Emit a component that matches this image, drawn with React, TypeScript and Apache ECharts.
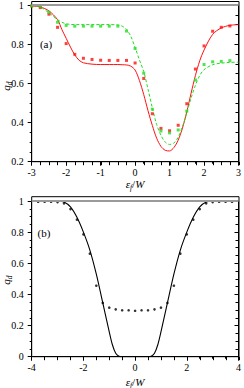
import React, { useEffect, useRef } from "react";
import * as echarts from "echarts";

// ---------- Panel (a) ----------
const pointsAX = [-3, -2.75, -2.5, -2.25, -2, -1.75, -1.5, -1.25, -1, -0.75, -0.5, -0.25, 0, 0.25, 0.5, 0.75, 1, 1.25, 1.5, 1.75, 2, 2.25, 2.5, 2.75];
const redPoints = [0.995, 0.987, 0.953, 0.886, 0.803, 0.748, 0.728, 0.722, 0.718, 0.717, 0.717, 0.717, 0.704, 0.625, 0.445, 0.37, 0.358, 0.386, 0.496, 0.673, 0.791, 0.866, 0.886, 0.893];
const greenPoints = [0.995, 0.994, 0.963, 0.912, 0.896, 0.892, 0.892, 0.892, 0.892, 0.892, 0.892, 0.867, 0.778, 0.652, 0.468, 0.357, 0.347, 0.362, 0.458, 0.617, 0.696, 0.71, 0.712, 0.716];

const curveAX = [-3, -2.75, -2.5, -2.25, -2.125, -2, -1.875, -1.75, -1.625, -1.5, -1.25, -1, -0.75, -0.5, -0.375, -0.25, -0.125, 0, 0.125, 0.25, 0.375, 0.5, 0.625, 0.75, 0.875, 1, 1.125, 1.25, 1.375, 1.5, 1.625, 1.75, 1.875, 2, 2.25, 2.5, 2.75, 3];
const redCurve = [0.995, 0.99, 0.97, 0.925, 0.875, 0.83, 0.785, 0.745, 0.718, 0.705, 0.698, 0.696, 0.696, 0.696, 0.695, 0.694, 0.688, 0.668, 0.615, 0.543, 0.46, 0.385, 0.32, 0.278, 0.258, 0.255, 0.272, 0.31, 0.372, 0.455, 0.55, 0.64, 0.715, 0.77, 0.85, 0.883, 0.896, 0.9];
const greenCurve = [0.997, 0.99, 0.96, 0.925, 0.912, 0.904, 0.901, 0.9, 0.9, 0.9, 0.9, 0.9, 0.9, 0.898, 0.892, 0.876, 0.84, 0.783, 0.72, 0.66, 0.57, 0.475, 0.39, 0.335, 0.3, 0.288, 0.295, 0.325, 0.38, 0.45, 0.525, 0.59, 0.64, 0.67, 0.695, 0.703, 0.707, 0.708];

// ---------- Panel (b) ----------
const pointsBX = [-3.75, -3.5, -3.25, -3, -2.75, -2.5, -2.25, -2, -1.75, -1.5, -1.25, -1, -0.75, -0.5, -0.25, 0, 0.25, 0.5, 0.75, 1, 1.25, 1.5, 1.75, 2, 2.25, 2.5, 2.75, 3, 3.25, 3.5, 3.75];
const blackPoints = [0.995, 0.995, 0.995, 0.993, 0.985, 0.948, 0.88, 0.786, 0.662, 0.456, 0.345, 0.315, 0.304, 0.298, 0.298, 0.295, 0.298, 0.298, 0.304, 0.315, 0.345, 0.456, 0.662, 0.786, 0.88, 0.948, 0.985, 0.993, 0.995, 0.995, 0.995];

const curveBX = [-4, -3.5, -3, -2.75, -2.5, -2.25, -2, -1.75, -1.5, -1.25, -1, -0.875, -0.75, -0.625, -0.5, 0, 0.5, 0.625, 0.75, 0.875, 1, 1.25, 1.5, 1.75, 2, 2.25, 2.5, 2.75, 3, 3.5, 4];
const blackCurve = [1, 1, 0.999, 0.994, 0.962, 0.895, 0.8, 0.685, 0.53, 0.345, 0.16, 0.075, 0.022, 0.003, 0, 0, 0, 0.003, 0.022, 0.075, 0.16, 0.345, 0.53, 0.685, 0.8, 0.895, 0.962, 0.994, 0.999, 1, 1];

const referenceLevel = 1;

const FONT = "Liberation Serif";
const RED = "#ff1010";
const GREEN = "#22dd22";

const zip = (xs: number[], ys: number[]) => xs.map((x, i) => [x, ys[i]]);

const fmtY = (v: number) => String(+v.toFixed(1));
const fmtX = (v: number) => String(+v.toFixed(2));

function bottomX(grid: number, min: number, max: number, interval: number) {
  return {
    type: "value", gridIndex: grid, position: "bottom", min, max, interval,
    axisLine: { show: true, onZero: false, lineStyle: { color: "#000", width: 1 } },
    axisTick: { show: true, inside: false, length: 4, lineStyle: { color: "#000" } },
    minorTick: { show: true, splitNumber: 4, length: 2, lineStyle: { color: "#000" } },
    axisLabel: { show: true, margin: 6, color: "#000", fontSize: 10, fontFamily: FONT, formatter: fmtX },
    splitLine: { show: false },
  };
}
function topX(grid: number, min: number, max: number, interval: number) {
  return {
    type: "value", gridIndex: grid, position: "top", min, max, interval,
    axisLine: { show: false },
    axisTick: { show: true, inside: true, length: 3.5, lineStyle: { color: "#000" } },
    minorTick: { show: true, splitNumber: 4, length: 3.5, lineStyle: { color: "#000" } },
    axisLabel: { show: false },
    splitLine: { show: false },
  };
}
function leftY(grid: number, min: number, max: number, interval: number) {
  return {
    type: "value", gridIndex: grid, position: "left", min, max, interval,
    axisLine: { show: true, onZero: false, lineStyle: { color: "#000", width: 1 } },
    axisTick: { show: true, inside: false, length: 4, lineStyle: { color: "#000" } },
    minorTick: { show: true, splitNumber: 4, length: 2, lineStyle: { color: "#000" } },
    axisLabel: { show: true, margin: 8, color: "#000", fontSize: 10, fontFamily: FONT, formatter: fmtY },
    splitLine: { show: false },
  };
}
function rightY(grid: number, min: number, max: number, interval: number) {
  return {
    type: "value", gridIndex: grid, position: "right", min, max, interval,
    axisLine: { show: true, onZero: false, lineStyle: { color: "#000", width: 1 } },
    axisTick: { show: true, inside: true, length: 4, lineStyle: { color: "#000" } },
    minorTick: { show: true, splitNumber: 4, length: 3, lineStyle: { color: "#000" } },
    axisLabel: { show: false },
    splitLine: { show: false },
  };
}
function hiddenY(grid: number) {
  return { type: "value", gridIndex: grid, show: false, min: 0, max: 1 };
}

const refLine = {
  silent: true,
  symbol: ["none", "none"],
  label: { show: false },
  lineStyle: { color: "#9a9a9a", width: 2, type: "solid" },
  data: [{ yAxis: referenceLevel }],
};

function subLabel(main: string) {
  return {
    fontFamily: FONT,
    rich: {
      i: { fontStyle: "italic", fontSize: 11, fontFamily: FONT, color: "#000", lineHeight: 14 },
      s: { fontStyle: "italic", fontSize: 7.5, fontFamily: FONT, color: "#000", verticalAlign: "bottom", lineHeight: 14 },
      n: { fontSize: 11, fontFamily: FONT, color: "#000", lineHeight: 14 },
    },
    text: main,
  };
}

export default function App() {
  const ref = useRef<HTMLDivElement>(null);
  useEffect(() => {
    document.body.style.margin = "0";
    if (!ref.current) return;
    const chart = echarts.init(ref.current, undefined, { renderer: "svg" });
    const L = 31.7, W = 207.3;
    const option: any = {
      animation: false,
      backgroundColor: "#fff",
      textStyle: { fontFamily: FONT },
      grid: [
        { left: L, top: 5, width: W, height: 156.7, show: false },
        { left: L, top: 1.5, width: W, height: 160.2, show: true, borderColor: "#000", borderWidth: 1, backgroundColor: "transparent" },
        { left: L, top: 201, width: W, height: 155.7, show: false },
        { left: L, top: 196.7, width: W, height: 160, show: true, borderColor: "#000", borderWidth: 1, backgroundColor: "transparent" },
      ],
      xAxis: [
        bottomX(0, -3, 3, 1),
        topX(1, -3, 3, 1),
        bottomX(2, -4, 4, 2),
        topX(3, -4, 4, 2),
      ],
      yAxis: [
        leftY(0, 0.2, 1, 0.2),
        rightY(0, 0.2, 1, 0.2),
        hiddenY(1),
        leftY(2, 0, 1, 0.2),
        rightY(2, 0, 1, 0.2),
        hiddenY(3),
      ],
      series: [
        {
          type: "line", xAxisIndex: 0, yAxisIndex: 0, data: zip(curveAX, redCurve),
          smooth: 0.3, showSymbol: false, lineStyle: { color: RED, width: 1 }, z: 2,
          markLine: refLine,
        },
        {
          type: "line", xAxisIndex: 0, yAxisIndex: 0, data: zip(curveAX, greenCurve),
          smooth: 0.3, showSymbol: false, lineStyle: { color: GREEN, width: 1, type: [3, 2] }, z: 2,
        },
        {
          type: "scatter", xAxisIndex: 0, yAxisIndex: 0, data: zip(pointsAX, redPoints),
          symbol: "rect", symbolSize: 3, itemStyle: { color: RED }, z: 3,
        },
        {
          type: "scatter", xAxisIndex: 0, yAxisIndex: 0, data: zip(pointsAX, greenPoints),
          symbol: "rect", symbolSize: 3, itemStyle: { color: GREEN }, z: 3,
        },
        {
          type: "line", xAxisIndex: 2, yAxisIndex: 3, data: zip(curveBX, blackCurve),
          smooth: 0.3, showSymbol: false, lineStyle: { color: "#000", width: 1.1 }, z: 2,
          markLine: refLine,
        },
        {
          type: "scatter", xAxisIndex: 2, yAxisIndex: 3, data: zip(pointsBX, blackPoints),
          symbol: "circle", symbolSize: 2.6, itemStyle: { color: "#000" }, z: 3,
        },
      ],
      graphic: [
        { type: "text", x: 46, y: 44, style: { text: "(a)", fontSize: 11, fontFamily: FONT, fill: "#000", align: "center", verticalAlign: "middle" } },
        { type: "text", x: 44, y: 233, style: { text: "(b)", fontSize: 11, fontFamily: FONT, fill: "#000", align: "center", verticalAlign: "middle" } },
        { type: "text", x: 6, y: 86, rotation: Math.PI / 2, style: { ...subLabel("{i|q}{s|d}"), align: "center", verticalAlign: "middle" } },
        { type: "text", x: 6, y: 280, rotation: Math.PI / 2, style: { ...subLabel("{i|q}{s|d}"), align: "center", verticalAlign: "middle" } },
        { type: "text", x: 135, y: 184, style: { ...subLabel("{i|ε}{s|f}{n|/}{i|W}"), align: "center", verticalAlign: "middle" } },
        { type: "text", x: 135, y: 382, style: { ...subLabel("{i|ε}{s|f}{n|/}{i|W}"), align: "center", verticalAlign: "middle" } },
      ],
    };
    chart.setOption(option);
    return () => chart.dispose();
  }, []);
  return <div ref={ref} style={{ width: 244, height: 388 }} />;
}
